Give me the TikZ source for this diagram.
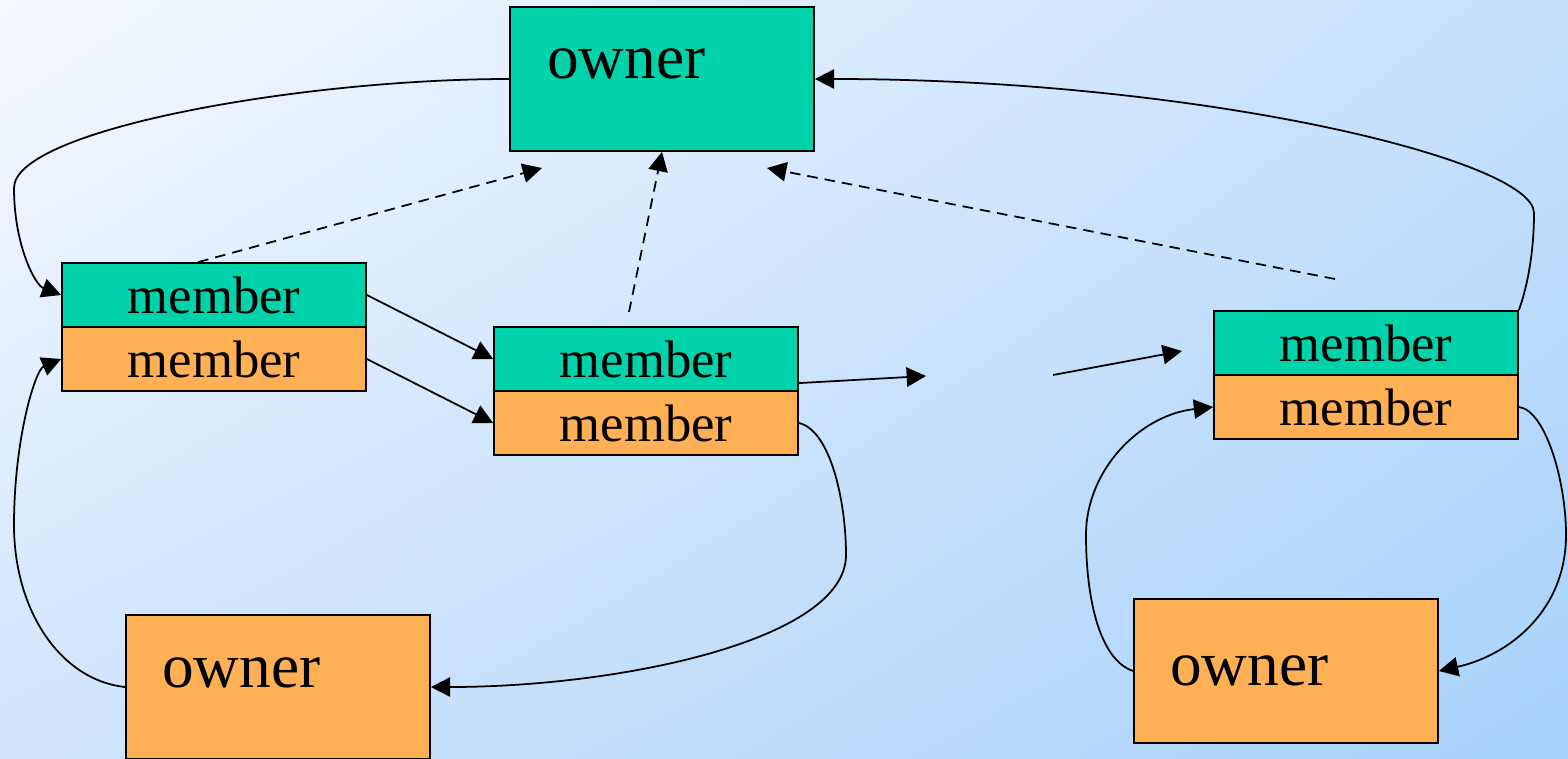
\documentclass[tikz,border=0pt]{standalone}
\usepackage{fontspec}
\setmainfont{Liberation Serif}
\usetikzlibrary{arrows.meta,shadings}

\definecolor{memberteal}{RGB}{0,210,170}
\definecolor{ownerorange}{RGB}{255,176,85}
\definecolor{bgUL}{RGB}{246,249,255}
\definecolor{bgUR}{RGB}{196,224,252}
\definecolor{bgLL}{RGB}{208,228,252}
\definecolor{bgLR}{RGB}{168,210,250}

\tikzset{
  box/.style={draw=black, line width=1pt, inner sep=0pt, minimum width=6.08cm},
  memberbox/.style={box, minimum height=1.28cm, font=\fontsize{30}{36}\selectfont},
  ownerbox/.style={box, minimum height=2.88cm},
  ownertext/.style={anchor=base west, inner sep=0pt, font=\fontsize{36}{42}\selectfont},
  tealfill/.style={fill=memberteal},
  orangefill/.style={fill=ownerorange},
  conn/.style={line width=1pt, -{Triangle[length=11pt,width=11pt]}},
  refconn/.style={conn, dash pattern=on 6pt off 4pt}
}

\begin{document}
\begin{tikzpicture}[x=0.02cm, y=-0.02cm]
  % background
  \shade[upper left=bgUL, upper right=bgUR, lower left=bgLL, lower right=bgLR]
    (0,0) rectangle (1568,758);
  \useasboundingbox (0,0) rectangle (1568,758);

  % owners
  \node[ownerbox, tealfill]   (ownTop)   at (662,79)  {};
  \node[ownertext] (ownTopTxt) at (547,78) {owner};
  \node[ownerbox, orangefill] (ownLeft)  at (278,687) {};
  \node[ownertext] (ownLeftTxt) at (162,687) {owner};
  \node[ownerbox, orangefill] (ownRight) at (1286,671) {};
  \node[ownertext] (ownRightTxt) at (1170,685) {owner};

  % member pairs
  \node[memberbox, tealfill]   (lmT) at (214,295) {member};
  \node[memberbox, orangefill] (lmO) at (214,359) {member};
  \node[memberbox, tealfill]   (mmT) at (646,359) {member};
  \node[memberbox, orangefill] (mmO) at (646,423) {member};
  \node[memberbox, tealfill]   (rmT) at (1366,343) {member};
  \node[memberbox, orangefill] (rmO) at (1366,407) {member};

  % free ends
  \coordinate (gapA)  at (926,376);
  \coordinate (gapB)  at (1053,375);
  \coordinate (gapC)  at (1182,351);
  \coordinate (refL)  at (542,168);
  \coordinate (refR)  at (767,168);
  \coordinate (refRs) at (1335,279);
  \coordinate (refMs) at (629,312);

  % owner -> member links
  \draw[conn] (ownTop.west) .. controls (300,79) and (14,130) .. (14,188)
              .. controls (14,245) and (35,285) .. (lmT.west);
  \draw[conn] (rmT.north east) .. controls (1528,285) and (1534,250) .. (1534,213)
              .. controls (1534,160) and (1200,79) .. (ownTop.east);
  \draw[conn] (ownLeft.west) .. controls (60,680) and (14,610) .. (14,525)
              .. controls (14,440) and (35,370) .. (lmO.west);
  \draw[conn] (mmO.east) .. controls (830,430) and (846,500) .. (846,555)
              .. controls (846,640) and (620,687) .. (ownLeft.east);
  \draw[conn] (rmO.east) .. controls (1545,410) and (1566,480) .. (1566,535)
              .. controls (1566,610) and (1510,655) .. (ownRight.east);
  \draw[conn] (ownRight.west) .. controls (1100,660) and (1086,600) .. (1086,535)
              .. controls (1086,470) and (1140,415) .. (rmO.west);

  % chain links
  \draw[conn] (lmT.east) -- (mmT.west);
  \draw[conn] (lmO.east) -- (mmO.west);
  \draw[conn] ([yshift=5pt]mmT.south east) -- (gapA);
  \draw[conn] (gapB) -- (gapC);

  % references to the owner
  \draw[refconn] ([xshift=-9pt]lmT.north) -- (refL);
  \draw[refconn] (refMs) -- (ownTop.south);
  \draw[refconn] (refRs) -- (refR);
\end{tikzpicture}
\end{document}
